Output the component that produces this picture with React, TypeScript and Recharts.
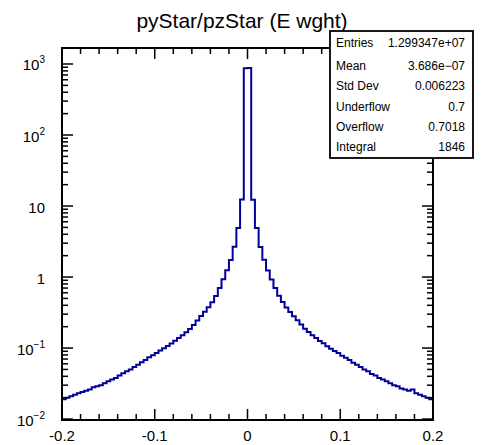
import React from 'react';
import { LineChart, Line, XAxis, YAxis, ReferenceArea } from 'recharts';

// ---- data ----
const binLow = -0.2;
const binWidth = 0.004;
// bin contents from -0.2 to 0 (left half)
const leftCounts = [0.019, 0.020, 0.021, 0.022, 0.023, 0.024, 0.025, 0.026, 0.028, 0.029, 0.030, 0.032, 0.034, 0.036, 0.038, 0.041, 0.044, 0.047, 0.050, 0.054, 0.058, 0.063, 0.068, 0.074, 0.079, 0.085, 0.092, 0.099, 0.107, 0.116, 0.127, 0.139, 0.152, 0.167, 0.186, 0.212, 0.245, 0.283, 0.325, 0.375, 0.44, 0.54, 0.70, 0.93, 1.25, 1.74, 2.67, 4.9, 12.4, 870];
// bin contents from 0 to 0.2 (right half)
const rightCounts = [875, 12.3, 4.9, 2.65, 1.75, 1.24, 0.92, 0.70, 0.545, 0.445, 0.372, 0.322, 0.281, 0.247, 0.214, 0.187, 0.168, 0.151, 0.138, 0.126, 0.117, 0.106, 0.098, 0.091, 0.085, 0.078, 0.073, 0.068, 0.062, 0.058, 0.054, 0.050, 0.047, 0.043, 0.041, 0.038, 0.036, 0.034, 0.032, 0.030, 0.029, 0.027, 0.026, 0.025, 0.026, 0.023, 0.022, 0.021, 0.020, 0.019];

const xTicks = [-0.2, -0.18, -0.16, -0.14, -0.12, -0.1, -0.08, -0.06, -0.04, -0.02, 0, 0.02, 0.04, 0.06, 0.08, 0.1, 0.12, 0.14, 0.16, 0.18, 0.2];
const xMajorTicks = [-0.2, -0.1, 0, 0.1, 0.2];
const xMajorLabels = ['-0.2', '-0.1', '0', '0.1', '0.2'];

const yMajorTicks = [0.01, 0.1, 1, 10, 100, 1000];
const yMajorBase = ['10', '10', '1', '10', '10', '10'];
const yMajorExp = ['\u22122', '\u22121', '', '', '2', '3'];
const yMinorMultipliers = [2, 3, 4, 5, 6, 7, 8, 9];
const yDecades = [0.01, 0.1, 1, 10, 100];

const titleText = 'pyStar/pzStar (E wght)';
const statNames = ['Entries', 'Mean', 'Std Dev', 'Underflow', 'Overflow', 'Integral'];
const statValues = ['1.299347e+07', '3.686e\u221207', '0.006223', '0.7', '0.7018', '1846'];

const Y_MIN = 0.0097;
const Y_MAX = 1680;

// ---- build ----
const counts = [...leftCounts, ...rightCounts];
const data = counts.map((c, i) => ({ x: Math.round((binLow + i * binWidth) * 1e6) / 1e6, y: c }));
data.push({ x: 0.2, y: counts[counts.length - 1] });

const yMinorTicks: number[] = [];
yDecades.forEach((d) => yMinorMultipliers.forEach((m) => yMinorTicks.push(Math.round(d * m * 1e6) / 1e6)));
const yTicks = [...yMajorTicks, ...yMinorTicks].sort((a, b) => a - b);

const W = 487;
const H = 445;
const PL = 62;
const PR = 433;
const PT = 48;
const PB = 420;
const FONT = '"Liberation Sans", Arial, Helvetica, sans-serif';
const LINE_COLOR = '#000099';

const XTick = (props: any) => {
  const { x, payload } = props;
  const v = payload.value;
  const idx = xMajorTicks.findIndex((m) => Math.abs(m - v) < 1e-9);
  const major = idx >= 0;
  const len = major ? 11 : 6;
  return (
    <g>
      <line x1={x} x2={x} y1={PB} y2={PB - len} stroke="#000" strokeWidth={1.5} />
      <line x1={x} x2={x} y1={PT} y2={PT + len} stroke="#000" strokeWidth={1.5} />
      {major && (
        <text x={x} y={PB + 21} textAnchor="middle" fontFamily={FONT} fontSize={15} fill="#000">
          {xMajorLabels[idx]}
        </text>
      )}
    </g>
  );
};

const YTick = (props: any) => {
  const { y, payload } = props;
  const v = payload.value;
  const idx = yMajorTicks.findIndex((m) => Math.abs(m - v) / m < 1e-6);
  const major = idx >= 0;
  const len = major ? 11 : 6;
  return (
    <g>
      <line x1={PL} x2={PL + len} y1={y} y2={y} stroke="#000" strokeWidth={1.5} />
      <line x1={PR} x2={PR - len} y1={y} y2={y} stroke="#000" strokeWidth={1.5} />
      {major && (
        <text x={45} y={y + 6.5} textAnchor="end" fontFamily={FONT} fontSize={15} fill="#000">
          {yMajorBase[idx]}
          {yMajorExp[idx] && (
            <tspan dy={-7} fontSize={10}>
              {yMajorExp[idx]}
            </tspan>
          )}
        </text>
      )}
    </g>
  );
};

export default function App() {
  const statTop = 31;
  const statBaselines = [47, 70, 90, 111, 131, 151];
  return (
    <div style={{ position: 'absolute', left: 0, top: 0, width: W, height: H, background: '#fff' }}>
      <LineChart width={W} height={H} data={data} margin={{ top: PT, right: W - PR, bottom: 0, left: 0 }}>
        <XAxis
          dataKey="x"
          type="number"
          domain={[-0.2, 0.2]}
          allowDataOverflow
          ticks={xTicks}
          interval={0}
          height={H - PB}
          tickLine={false}
          axisLine={false}
          tick={XTick}
        />
        <YAxis
          type="number"
          scale="log"
          domain={[Y_MIN, Y_MAX]}
          allowDataOverflow
          ticks={yTicks}
          interval={0}
          width={PL}
          tickLine={false}
          axisLine={false}
          tick={YTick}
        />
        <Line
          type="stepAfter"
          dataKey="y"
          stroke={LINE_COLOR}
          strokeWidth={2}
          dot={false}
          isAnimationActive={false}
        />
        <ReferenceArea x1={-0.2} x2={0.2} y1={Y_MIN} y2={Y_MAX} fill="none" stroke="#000" strokeWidth={2} ifOverflow="visible" />
      </LineChart>
      <svg width={W} height={H} style={{ position: 'absolute', left: 0, top: 0, pointerEvents: 'none' }}>
        <text x={242} y={28} textAnchor="middle" fontFamily={FONT} fontSize={21} fill="#000">
          {titleText}
        </text>
        <rect x={330} y={statTop} width={143} height={127} fill="#fff" stroke="#000" strokeWidth={1.8} />
        {statNames.map((n, i) => (
          <g key={n}>
            <text x={336} y={statBaselines[i]} fontFamily={FONT} fontSize={12} fill="#000">
              {n}
            </text>
            <text x={465} y={statBaselines[i]} textAnchor="end" fontFamily={FONT} fontSize={12} fill="#000">
              {statValues[i]}
            </text>
          </g>
        ))}
      </svg>
    </div>
  );
}
